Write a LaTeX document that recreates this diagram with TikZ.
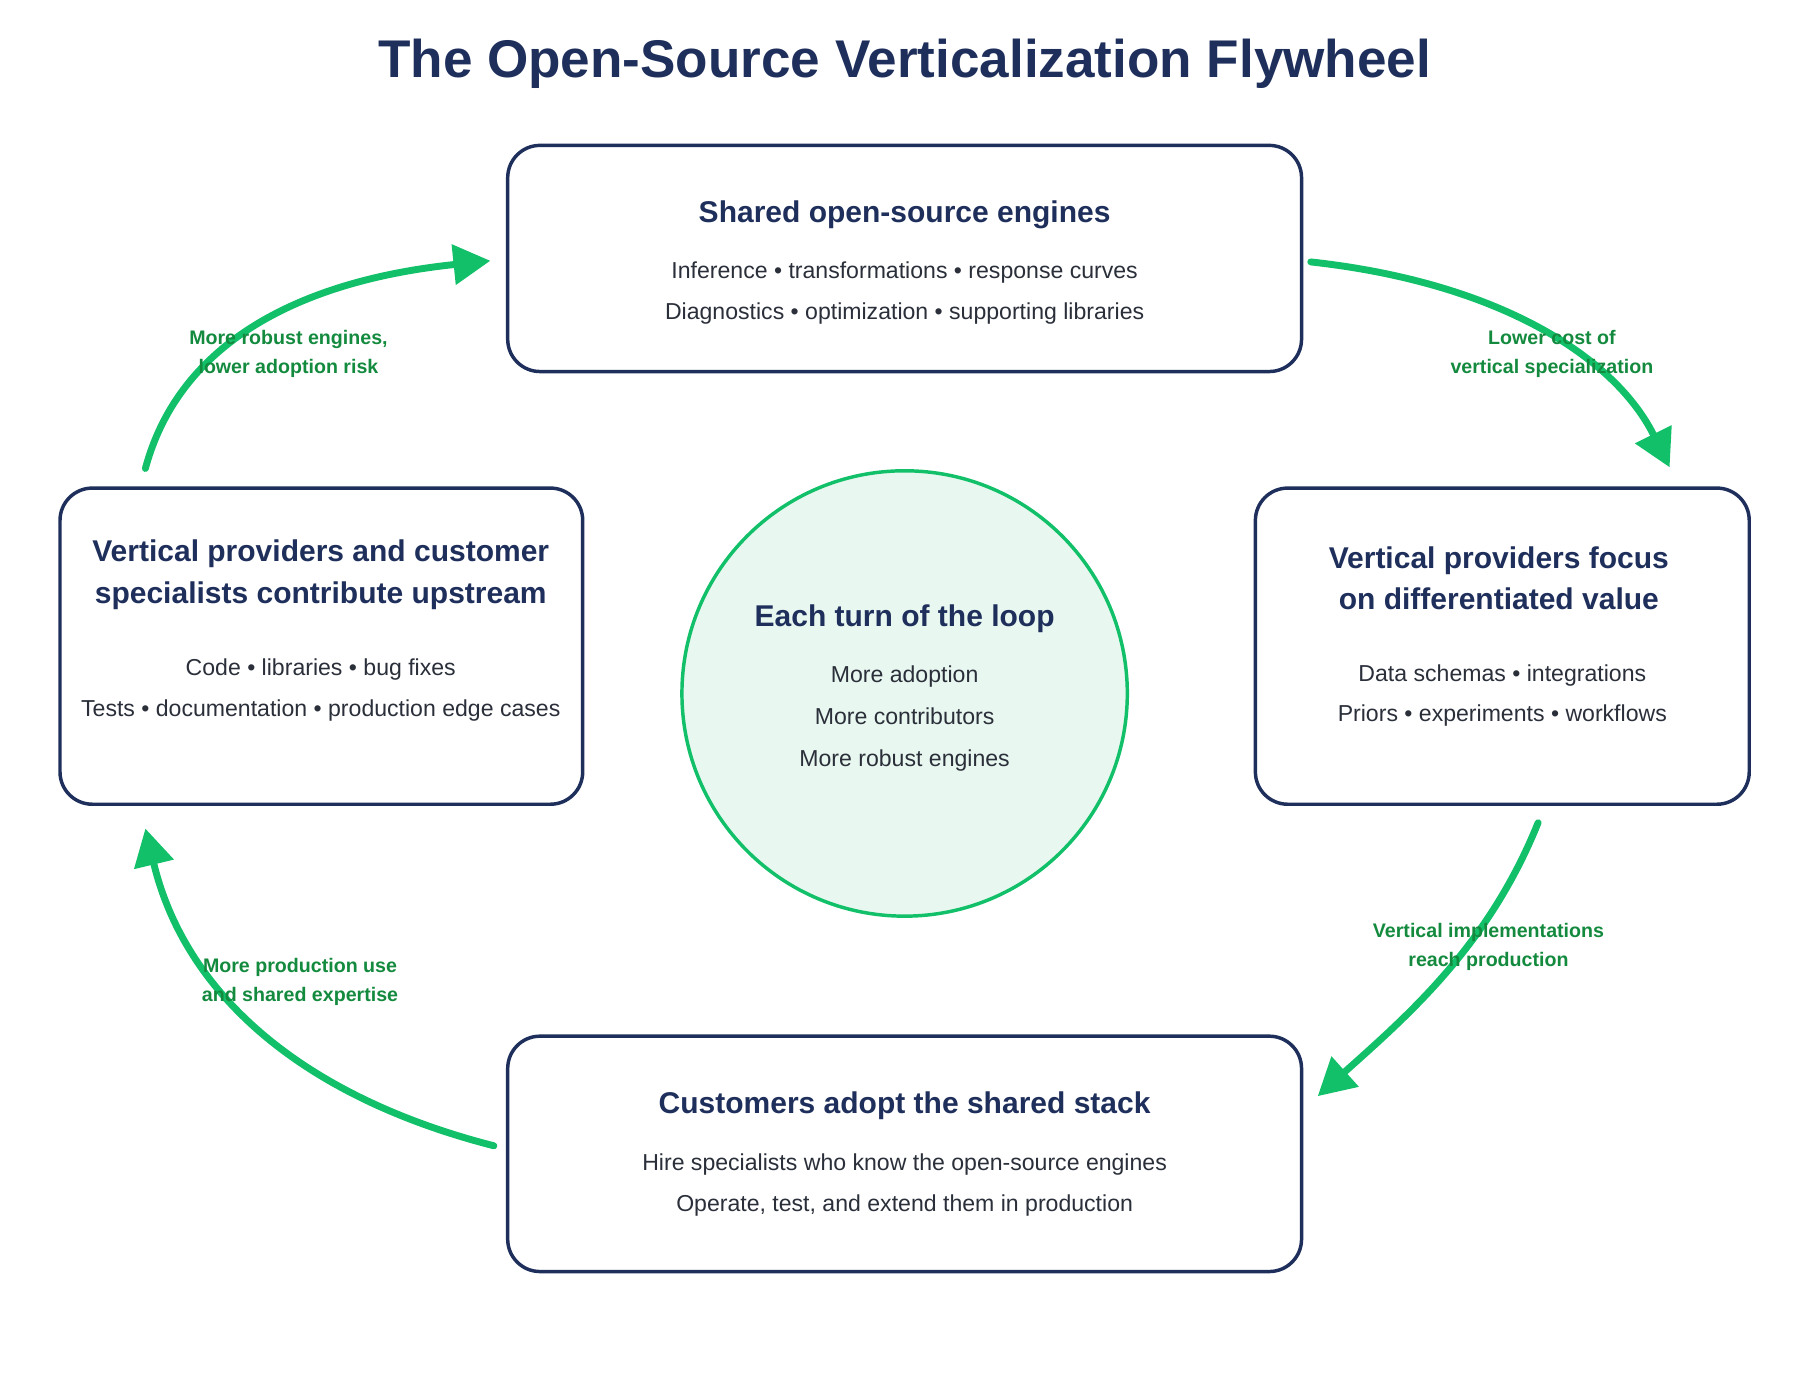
\documentclass[tikz,border=0pt]{standalone}
\usepackage{fontspec}
\setmainfont{Liberation Sans}
\usetikzlibrary{arrows.meta}
\definecolor{navy}{HTML}{1F2F5C}
\definecolor{grn}{HTML}{12C06A}
\definecolor{dgrn}{HTML}{138A3E}
\definecolor{cfill}{HTML}{E8F7EF}
\definecolor{txt}{HTML}{2A2F3A}
\tikzset{
  card/.style={draw=navy,line width=3pt,rounded corners=28pt,fill=white},
  ttl/.style={text=navy,font=\fontsize{26}{36}\selectfont\bfseries,align=center},
  body/.style={text=txt,font=\fontsize{20}{35}\selectfont,align=center},
  lbl/.style={text=dgrn,font=\fontsize{17}{25}\selectfont\bfseries,align=center},
  flow/.style={draw=grn,line width=6pt,line cap=round,-{Triangle[length=32pt,width=34pt]}},
}
\begin{document}
\begin{tikzpicture}[x=1pt,y=-1pt]
\useasboundingbox (0,0) rectangle (1560,1213);
\node[text=navy,font=\fontsize{46}{50}\selectfont\bfseries] (title) at (784,55) {The Open-Source Verticalization Flywheel};
% boxes
\draw[card] (440,126) rectangle (1128,322);
\node[ttl] (t1) at (784,186) {Shared open-source engines};
\node[body] (b1) at (784,254) {Inference • transformations • response curves\\Diagnostics • optimization • supporting libraries};
\draw[card] (1088,423) rectangle (1516,697);
\node[ttl] (t2) at (1299,501) {Vertical providers focus\\on differentiated value};
\node[body] (b2) at (1302,603) {Data schemas • integrations\\Priors • experiments • workflows};
\draw[card] (440,898) rectangle (1128,1102);
\node[ttl] (t3) at (784,958) {Customers adopt the shared stack};
\node[body] (b3) at (784,1027) {Hire specialists who know the open-source engines\\Operate, test, and extend them in production};
\draw[card] (52,423) rectangle (505,697);
\node[ttl] (t4) at (278,498) {Vertical providers and customer\\specialists contribute upstream};
\node[body] (b4) at (278,598) {Code • libraries • bug fixes\\Tests • documentation • production edge cases};
% circle
\draw[draw=grn,fill=cfill,line width=3pt] (784,601) circle (193);
\node[ttl] (ct) at (784,536) {Each turn of the loop};
\node[body,font=\fontsize{20}{36.5}\selectfont] (cb) at (784,623) {More adoption\\More contributors\\More robust engines};
% arrows
\coordinate (a1) at (1136,227); \coordinate (a1e) at (1447,405);
\coordinate (a2) at (1333,713); \coordinate (a2e) at (1142,950);
\coordinate (a3) at (428,993); \coordinate (a3e) at (126,718);
\coordinate (a4) at (126,406); \coordinate (a4e) at (425,226);
\draw[flow] (a1) .. controls (1300,245) and (1400,310) .. (a1e);
\draw[flow] (a2) .. controls (1290,820) and (1220,880) .. (a2e);
\draw[flow] (a3) .. controls (260,950) and (160,860) .. (a3e);
\draw[flow] (a4) .. controls (160,280) and (290,240) .. (a4e);
\node[lbl] (l1) at (1345,307) {Lower cost of\\vertical specialization};
\node[lbl] (l2) at (1290,821) {Vertical implementations\\reach production};
\node[lbl] (l3) at (260,851) {More production use\\and shared expertise};
\node[lbl] (l4) at (250,307) {More robust engines,\\lower adoption risk};
\end{tikzpicture}
\end{document}
